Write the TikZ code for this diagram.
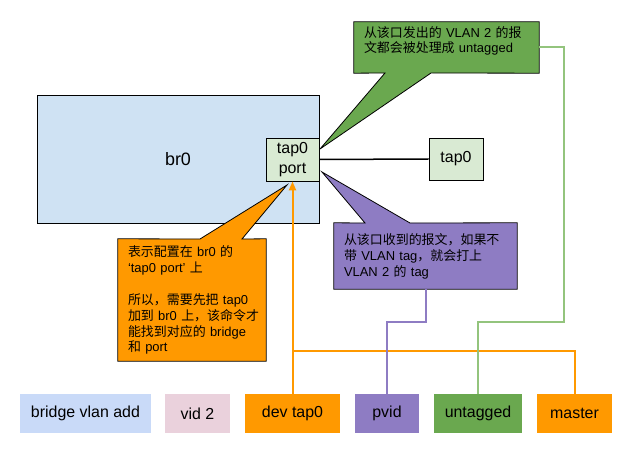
\documentclass[tikz,border=0pt]{standalone}
\usepackage{fontspec}
\setmainfont{Liberation Sans}
\newfontfamily\zhfont{Noto Sans CJK SC}
\newcommand{\zh}[1]{{\zhfont #1}}
\usetikzlibrary{arrows.meta,backgrounds}

\definecolor{brfill}{HTML}{CFE2F3}
\definecolor{portfill}{HTML}{D9EAD3}
\definecolor{cmdblue}{HTML}{C9DAF8}
\definecolor{cmdpink}{HTML}{EAD1DC}
\definecolor{gorange}{HTML}{FF9900}
\definecolor{gpurple}{HTML}{8E7CC3}
\definecolor{ggreen}{HTML}{6AA84F}
\definecolor{lgreen}{HTML}{93C47D}

\tikzset{
  box/.style={draw=black,line width=0.8bp,inner sep=0pt},
  cmd/.style={inner sep=0pt,minimum height=39bp,font=\fontsize{16}{19}\selectfont},
  note/.style={inner xsep=10bp,inner ysep=0pt,align=left,font=\fontsize{13}{16}\selectfont},
  wire/.style={line width=2bp},
}

\begin{document}
\begin{tikzpicture}[x=1bp,y=-1bp]
            \useasboundingbox (0,0) rectangle (638,455);
            % ports
            \node[box,fill=portfill,minimum width=53bp,minimum height=43bp,align=center,font=\fontsize{16}{20}\selectfont] (port) at (292.5,159.5) {tap0\\port};
            \node[box,fill=portfill,minimum width=54bp,minimum height=42bp,font=\fontsize{16}{19}\selectfont] (tap0) at (456,159) {tap0};
            \draw[line width=1.5bp] (port.east) -- (tap0.west);
            % notes
            \node[note,text width=165bp,minimum height=51bp] (gnote) at (446.5,47.5) {\zh{从该口发出的} VLAN 2 \zh{的报}\\\zh{文都会被处理成} untagged\\\mbox{}};
            \node[note,text width=163bp,minimum height=66bp] (pnote) at (425.5,256) {\zh{从该口收到的报文，如果不}\\\zh{带} VLAN tag\zh{，就会打上}\\VLAN 2 \zh{的} tag};
            \node[note,text width=128bp,minimum height=122bp] (onote) at (192,300) {\zh{表示配置在} br0 \zh{的}\\‘tap0 port’ \zh{上}\\[16bp]\zh{所以，需要先把} tap0\\\zh{加到}~br0~\zh{上，该命令才}\\\zh{能找到对应的} bridge\\\zh{和} port};
            \coordinate (gtip) at (320,149);
            \coordinate (ptip) at (322,172);
            \coordinate (otip) at (287,185);
            \begin{scope}[on background layer]
            \node[box,fill=brfill,minimum width=282bp,minimum height=128bp,font=\fontsize{18}{20}\selectfont] (br0) at (178,159) {br0};
            \draw[line width=0.8bp,fill=ggreen] (gnote.north west) -- (gnote.north east) -- (gnote.south east) -- (431,73) -- (gtip) -- (385,73) -- (gnote.south west) -- cycle;
            \draw[line width=0.8bp,fill=gpurple] (pnote.north west) -- (365,223) -- (ptip) -- (410,223) -- (pnote.north east) -- (pnote.south east) -- (pnote.south west) -- cycle;
            \draw[line width=0.8bp,fill=gorange] (onote.north west) -- (200,239) -- (otip) -- (242,239) -- (onote.north east) -- (onote.south east) -- (onote.south west) -- cycle;
            \end{scope}
            % command
            \node[cmd,fill=cmdblue,minimum width=131bp] (bva) at (85.5,413.5) {bridge vlan add};
            \node[cmd,fill=cmdpink,minimum width=65bp] (vid) at (197.5,413.5) {vid 2};
            \node[cmd,fill=gorange,minimum width=95bp] (devtap0) at (292.5,413.5) {dev tap0};
            \node[cmd,fill=gpurple,minimum width=64bp] (pvid) at (387,413.5) {pvid};
            \node[cmd,fill=ggreen,minimum width=88bp] (untagged) at (478,413.5) {untagged};
            \node[cmd,fill=gorange,minimum width=75bp] (master) at (574.5,413.5) {master};
            % links
            \coordinate (join) at (292.5,351);
            \draw[wire,gorange,-{Triangle[length=9pt,width=7pt]}] (devtap0.north) -- (port.south);
            \draw[wire,gorange] (master.north) |- (join);
            \draw[wire,gpurple] (pnote.south) -- ++(0,33) -| (pvid.north);
            \draw[wire,lgreen] (gnote.east) -- ++(25,0) -- ++(0,274.5) -| (untagged.north);
        \end{tikzpicture}
\end{document}
